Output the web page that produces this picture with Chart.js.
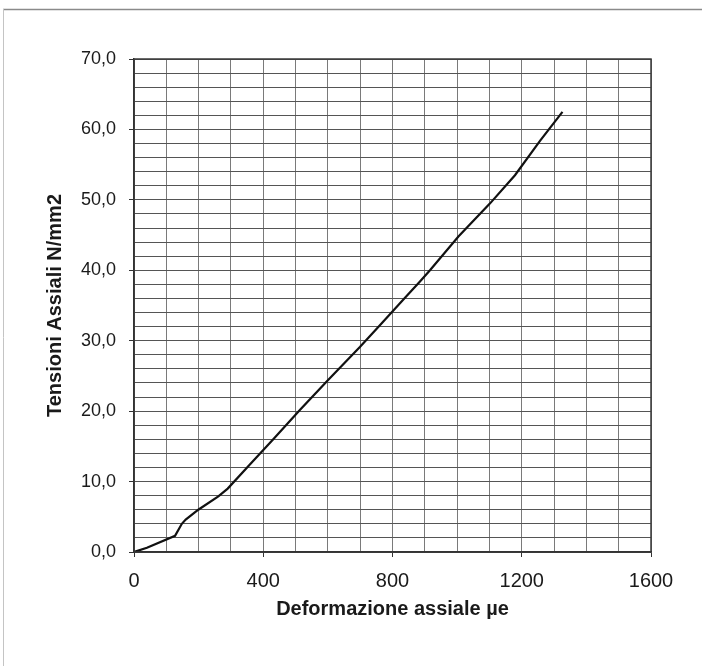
<!DOCTYPE html>
<html>
<head>
<meta charset="utf-8">
<script src="https://cdn.jsdelivr.net/npm/chart.js@4"></script>
<style>
  html, body { margin: 0; padding: 0; background: #ffffff; }
  #wrap { width: 702px; height: 666px; position: relative; }
</style>
</head>
<body>
<div id="wrap"><canvas id="c" width="702" height="666"></canvas></div>
<script>
// Axial strain (microstrain) and axial stress (N/mm2) readings
const strain = [0, 40, 127, 148, 160, 199, 261, 290, 360, 431, 514, 600, 699, 761, 833, 885, 916, 1004, 1102, 1179, 1257, 1326];
const stress = [0, 0.6, 2.3, 4.0, 4.6, 6.0, 7.9, 9.0, 12.5, 16.0, 20.2, 24.4, 29.1, 32.2, 35.8, 38.4, 40.0, 44.8, 49.5, 53.5, 58.4, 62.5];

// Labelled tick positions
const xTickLabels = [0, 400, 800, 1200, 1600];
const yTickLabels = [0, 10, 20, 30, 40, 50, 60, 70];

const xTitle = 'Deformazione assiale \u00b5e';
const yTitle = 'Tensioni Assiali N/mm2';

const points = strain.map((x, i) => ({ x: x, y: stress[i] }));

// Thin frame along the top and left edge of the page
const pageFrame = {
  id: 'pageFrame',
  beforeDraw(chart) {
    const ctx = chart.ctx;
    ctx.save();
    ctx.strokeStyle = '#8a8a8a';
    ctx.lineWidth = 1.5;
    ctx.beginPath();
    ctx.moveTo(3, 9.5);
    ctx.lineTo(702, 9.5);
    ctx.stroke();
    ctx.strokeStyle = '#c4c4c4';
    ctx.lineWidth = 1;
    ctx.beginPath();
    ctx.moveTo(3.5, 9);
    ctx.lineTo(3.5, 666);
    ctx.stroke();
    ctx.restore();
  }
};

// Dark outline around the plotting area
const plotOutline = {
  id: 'plotOutline',
  afterDatasetsDraw(chart) {
    const a = chart.chartArea;
    const ctx = chart.ctx;
    ctx.save();
    ctx.strokeStyle = '#3a3a3a';
    ctx.lineWidth = 1.5;
    ctx.strokeRect(a.left, a.top, a.right - a.left, a.bottom - a.top);
    ctx.restore();
  }
};

const fmt = v => v.toFixed(1).replace('.', ',');

new Chart(document.getElementById('c'), {
  type: 'scatter',
  data: {
    datasets: [{
      data: points,
      showLine: true,
      borderColor: '#111111',
      borderWidth: 2.2,
      pointRadius: 0,
      tension: 0,
      fill: false
    }]
  },
  options: {
    responsive: false,
    animation: false,
    events: [],
    layout: { padding: { left: 0, right: 51, top: 59, bottom: 0 } },
    plugins: { legend: { display: false }, tooltip: { enabled: false } },
    scales: {
      x: {
        type: 'linear',
        min: 0,
        max: 1600,
        afterFit(scale) { scale.height = 114; },
        border: { display: true, color: '#222222', width: 1.5 },
        grid: {
          color: '#7a7a7a',
          lineWidth: 1,
          tickLength: 5,
          tickColor: ctx => (ctx.tick && xTickLabels.includes(ctx.tick.value)) ? '#333333' : 'rgba(0,0,0,0)'
        },
        ticks: {
          stepSize: 100,
          autoSkip: false,
          maxRotation: 0,
          padding: 12,
          color: '#1a1a1a',
          font: { family: 'Liberation Sans', size: 20 },
          callback: v => xTickLabels.includes(v) ? String(v) : ''
        },
        title: {
          display: true,
          text: xTitle,
          color: '#1a1a1a',
          font: { family: 'Liberation Sans', size: 20, weight: 'bold' },
          padding: { top: 0, bottom: 45 }
        }
      },
      y: {
        type: 'linear',
        min: 0,
        max: 70,
        afterFit(scale) { scale.width = 134; },
        border: { display: true, color: '#222222', width: 1.5 },
        grid: {
          color: '#555555',
          lineWidth: 1,
          tickLength: 5,
          tickColor: ctx => (ctx.tick && yTickLabels.includes(ctx.tick.value)) ? '#333333' : 'rgba(0,0,0,0)'
        },
        ticks: {
          stepSize: 2,
          autoSkip: false,
          maxTicksLimit: 100,
          padding: 13,
          color: '#1a1a1a',
          font: { family: 'Liberation Sans', size: 18 },
          callback: v => yTickLabels.includes(v) ? fmt(v) : ''
        },
        title: {
          display: true,
          text: yTitle,
          color: '#1a1a1a',
          font: { family: 'Liberation Sans', size: 20, weight: 'bold' },
          padding: { top: 43, bottom: 0 }
        }
      }
    }
  },
  plugins: [pageFrame, plotOutline]
});
</script>
</body>
</html>
